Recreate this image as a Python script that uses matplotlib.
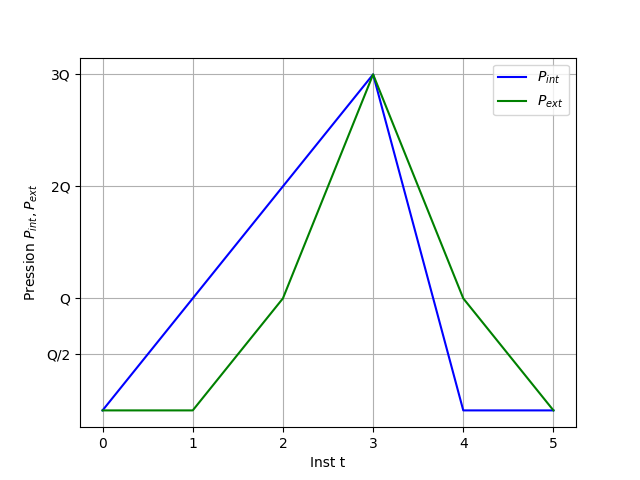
import matplotlib
matplotlib.use('Agg')
import matplotlib.pyplot as plt

# Data
t = [0, 1, 2, 3, 4, 5]
p_int = [0, 1, 2, 3, 0, 0]
p_ext = [0, 0, 1, 3, 1, 0]
ytick_vals = [0.5, 1, 2, 3]
ytick_labels = ['Q/2', 'Q', '2Q', '3Q']

fig, ax = plt.subplots(figsize=(6.4, 4.8), dpi=100)
ax.plot(t, p_int, color='blue', label=r'$P_{int}$')
ax.plot(t, p_ext, color='green', label=r'$P_{ext}$')
ax.set_yticks(ytick_vals)
ax.set_yticklabels(ytick_labels)
ax.set_xlabel('Inst t')
ax.set_ylabel(r'Pression $P_{int}, P_{ext}$')
ax.grid(True)
ax.legend(loc='upper right')

fig.savefig('out.png')
